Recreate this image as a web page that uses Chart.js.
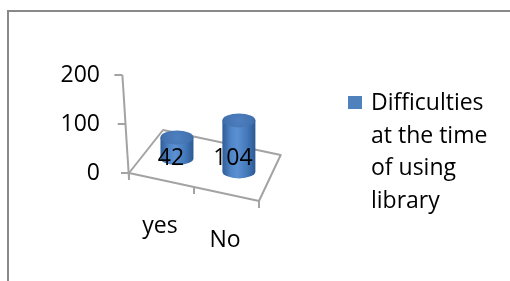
<!DOCTYPE html>
<html>
<head>
<meta charset="utf-8">
<script src="https://cdn.jsdelivr.net/npm/chart.js@4/dist/chart.umd.min.js"></script>
<style>
  html, body { margin: 0; padding: 0; background: #fff; overflow: hidden; }
  #wrap { position: relative; width: 510px; height: 281px; }
  #frame { position: absolute; left: 7px; top: 10px; width: 520px; height: 300px;
           border-left: 2px solid #898989; border-top: 2px solid #898989; }
  canvas { position: absolute; left: 0; top: 0; }
  #legend { position: absolute; left: 348px; top: 85px; font-family: "Open Sans", sans-serif;
            font-size: 23px; line-height: 32.6px; color: #000; }
  #legend .box { position: absolute; left: 0; top: 11px; width: 14px; height: 13px; background: #4f81bd; }
  #legend .txt { position: absolute; left: 23px; top: 0; white-space: nowrap; }
</style>
</head>
<body>
<div id="wrap">
  <div id="frame"></div>
  <canvas id="c" width="510" height="281"></canvas>
  <div id="legend"><div class="box"></div><div class="txt" id="legtxt"></div></div>
</div>
<script>
// ---- data ----
const categories = ['yes', 'No'];
const values = [42, 104];
const yTickValues = [0, 100, 200];
const seriesLabel = 'Difficulties at the time of using library';
const legendLines = ['Difficulties', 'at the time', 'of using', 'library'];

document.getElementById('legtxt').innerHTML = legendLines.join('<br>');

const FONT = '"Open Sans", sans-serif';
const FRONT_SLOPE = 0.2154;          // perspective slope of the floor front edge
const DEPTH_L = [34, -43];           // depth vector at left end of floor
const DEPTH_R = [21.7, -46];         // depth vector at right end of floor
const LINE = '#a3a3a3';

function depthAt(frac) {
  return [DEPTH_L[0] + (DEPTH_R[0] - DEPTH_L[0]) * frac, DEPTH_L[1] + (DEPTH_R[1] - DEPTH_L[1]) * frac];
}

const scene3d = {
  id: 'scene3d',
  beforeDatasetsDraw(chart) {
    const ctx = chart.ctx, a = chart.chartArea, ys = chart.scales.y;
    const y0 = ys.getPixelForValue(0);
    const L = a.left, R = a.right, W = R - L;
    const FL = [L, y0], FR = [R, y0 + W * FRONT_SLOPE];
    const dl = depthAt(0), dr = depthAt(1);
    const BL = [FL[0] + dl[0], FL[1] + dl[1]], BR = [FR[0] + dr[0], FR[1] + dr[1]];
    ctx.save();
    ctx.strokeStyle = LINE; ctx.lineWidth = 2; ctx.lineJoin = 'round';
    // floor
    ctx.beginPath();
    ctx.moveTo(FL[0], FL[1]); ctx.lineTo(FR[0], FR[1]); ctx.lineTo(BR[0], BR[1]); ctx.lineTo(BL[0], BL[1]); ctx.closePath();
    ctx.stroke();
    // slanted value axis
    const yTop = ys.getPixelForValue(ys.max);
    const lean = 6.6 / (y0 - yTop);
    const axX = (py) => L - (y0 - py) * lean;
    ctx.beginPath();
    ctx.moveTo(axX(yTop), yTop); ctx.lineTo(L, y0 + 6);
    ctx.stroke();
    ys.ticks.forEach(t => {
      const py = ys.getPixelForValue(t.value);
      ctx.beginPath(); ctx.moveTo(axX(py) - 8, py); ctx.lineTo(axX(py), py); ctx.stroke();
    });
    // category ticks along front edge
    const xs = chart.scales.x;
    const step = W / categories.length;
    for (let i = 0; i <= categories.length; i++) {
      const px = L + i * step, py = y0 + (px - L) * FRONT_SLOPE;
      ctx.beginPath(); ctx.moveTo(px, py); ctx.lineTo(px, py + 7); ctx.stroke();
    }
    ctx.restore();
  },
  beforeDatasetDraw() { return false; },
  afterDatasetsDraw(chart) {
    const ctx = chart.ctx, a = chart.chartArea, ys = chart.scales.y, xs = chart.scales.x;
    const y0 = ys.getPixelForValue(0);
    const L = a.left, W = a.right - a.left;
    const meta = chart.getDatasetMeta(0);
    meta.data.forEach((bar, i) => {
      const fx = bar.x, fy = y0 + (fx - L) * FRONT_SLOPE;
      const d = depthAt((fx - L) / W);
      const cx = fx + d[0] * 0.5, by = fy + d[1] * 0.5;
      const h = bar.base - bar.y;
      const rx = 16.5, ry = 7;
      const ty = by - h;
      // body
      const g = ctx.createLinearGradient(cx - rx, 0, cx + rx, 0);
      g.addColorStop(0, '#2f5c96');
      g.addColorStop(0.25, '#4f84c6');
      g.addColorStop(0.45, '#5b90d2');
      g.addColorStop(0.75, '#4378b9');
      g.addColorStop(1, '#2c5993');
      ctx.save();
      ctx.beginPath();
      ctx.moveTo(cx - rx, ty);
      ctx.lineTo(cx - rx, by);
      ctx.ellipse(cx, by, rx, ry, 0, Math.PI, 0, true);
      ctx.lineTo(cx + rx, ty);
      ctx.closePath();
      ctx.fillStyle = g; ctx.fill();
      // top
      const tg = ctx.createRadialGradient(cx, ty, 2, cx, ty, rx);
      tg.addColorStop(0, '#4c7dbc');
      tg.addColorStop(0.8, '#4372b0');
      tg.addColorStop(1, '#3a68a4');
      ctx.beginPath();
      ctx.ellipse(cx, ty, rx, ry, 0, 0, Math.PI * 2);
      ctx.fillStyle = tg; ctx.fill();
      ctx.restore();
      // data label
      ctx.save();
      ctx.font = '23px ' + FONT;
      ctx.fillStyle = '#000';
      ctx.textAlign = 'center';
      ctx.textBaseline = 'alphabetic';
      ctx.fillText(String(values[i]), cx - 6, y0 - 8);
      // category label
      ctx.fillText(categories[i], fx - 1.5, fy + 53);
      ctx.restore();
    });
  }
};

function build() {
  new Chart(document.getElementById('c'), {
    type: 'bar',
    data: {
      labels: categories,
      datasets: [{ label: seriesLabel, data: values, backgroundColor: '#4f81bd' }]
    },
    options: {
      responsive: false,
      animation: false,
      events: [],
      layout: { padding: { left: 0, top: 75, right: 251, bottom: 108 } },
      plugins: { legend: { display: false }, tooltip: { enabled: false } },
      scales: {
        x: { display: false },
        y: {
          min: 0, max: 200,
          afterBuildTicks(s) { s.ticks = yTickValues.map(v => ({ value: v })); },
          afterFit(s) { s.width = 129; },
          border: { display: false },
          grid: { display: false, drawTicks: false },
          ticks: { padding: 29, color: '#000', font: { family: FONT, size: 23 } }
        }
      }
    },
    plugins: [scene3d]
  });
}
if (document.fonts && document.fonts.load) {
  document.fonts.load('23px "Open Sans"').then(build, build);
} else { build(); }
</script>
</body>
</html>
